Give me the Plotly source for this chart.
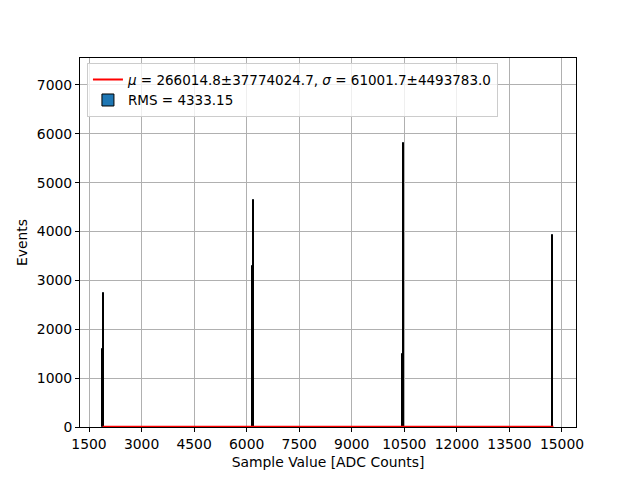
import plotly.graph_objects as go

# Histogram spikes (bin centers and counts)
bin_centers = [1880, 1905, 6165, 6190, 10440, 10465, 14715, 14740]
bin_counts = [1600, 2740, 3300, 4640, 1500, 5810, 3400, 3920]
bin_width = 25

# Gaussian fit curve (essentially flat near zero over the data range)
fit_x = [1886, 4500, 7500, 10500, 13500, 14757]
fit_y = [3, 3, 4, 4, 5, 5]

x_ticks = [1500, 3000, 4500, 6000, 7500, 9000, 10500, 12000, 13500, 15000]
x_tick_labels = [str(v) for v in x_ticks]
y_ticks = [0, 1000, 2000, 3000, 4000, 5000, 6000, 7000]
y_tick_labels = [str(v) for v in y_ticks]

fit_label = "<i>μ</i> = 266014.8±37774024.7, <i>σ</i> = 61001.7±4493783.0"
rms_label = "RMS = 4333.15"

fig = go.Figure()
fig.add_trace(go.Bar(
    x=bin_centers, y=bin_counts, width=bin_width,
    marker=dict(color="#1f77b4", line=dict(color="black", width=1)),
    name=rms_label, legendrank=2,
))
fig.add_trace(go.Scatter(
    x=fit_x, y=fit_y, mode="lines",
    line=dict(color="red", width=2),
    name=fit_label, legendrank=1,
))

font = dict(family="DejaVu Sans", size=13.9, color="black")
legend_font = dict(family="DejaVu Sans", size=13.5, color="black")
axis_common = dict(
    showgrid=True, gridcolor="#b0b0b0", gridwidth=1,
    showline=True, linecolor="black", linewidth=1, mirror=True,
    ticks="outside", ticklen=4, tickcolor="black",
    zeroline=False, tickfont=font,
)
fig.update_layout(
    width=640, height=480,
    margin=dict(l=72, r=72, t=50, b=61),
    paper_bgcolor="white", plot_bgcolor="white",
    font=font,
    bargap=0,
    showlegend=True,
    legend=dict(
        x=0.014, y=0.986, xanchor="left", yanchor="top",
        bgcolor="rgba(255,255,255,0.8)", bordercolor="#cccccc", borderwidth=1,
        font=legend_font, tracegroupgap=2, itemwidth=30,
    ),
    xaxis=dict(axis_common, range=[1243, 15400], tickvals=x_ticks, ticktext=x_tick_labels,
               title=dict(text="Sample Value [ADC Counts]", font=font, standoff=6)),
    yaxis=dict(axis_common, range=[0, 7552], tickvals=y_ticks, ticktext=y_tick_labels,
               title=dict(text="Events", font=font, standoff=5)),
)
fig.write_html("out.html")
